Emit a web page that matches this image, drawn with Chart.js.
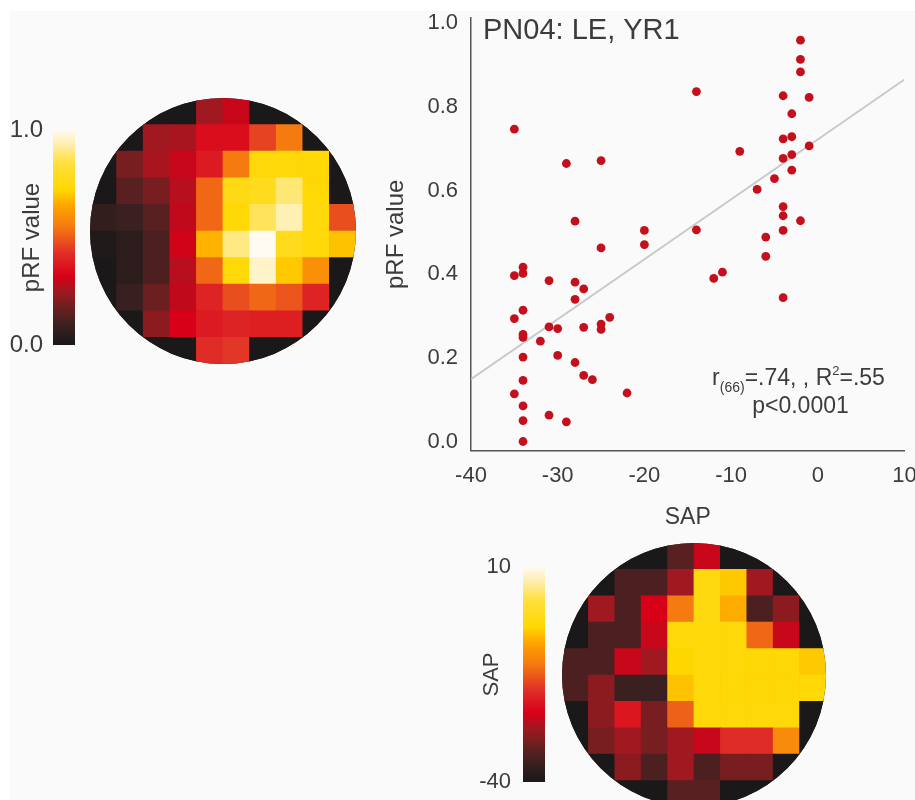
<!DOCTYPE html>
<html>
<head>
<meta charset="utf-8">
<script src="https://cdn.jsdelivr.net/npm/chart.js@4.4.1/dist/chart.umd.min.js"></script>
<style>
  html, body { margin: 0; padding: 0; background: #fff; }
  #page { position: relative; width: 915px; height: 800px; overflow: hidden; background: #fff; }
  #panel { position: absolute; left: 10px; top: 11px; right: 0; bottom: 0; background: #fafafa; }
  canvas { position: absolute; }
</style>
</head>
<body>
<div id="page">
  <div id="panel"></div>
  <canvas id="prfBar" width="80" height="235" style="left:0;top:120px"></canvas>
  <canvas id="prfMap" width="266" height="266" style="left:90px;top:98px"></canvas>
  <canvas id="scatter" width="560" height="540" style="left:380px;top:0"></canvas>
  <canvas id="sapBar" width="80" height="235" style="left:470px;top:557px"></canvas>
  <canvas id="sapMap" width="264" height="264" style="left:562px;top:543px"></canvas>
</div>
<script>
// scatter: SAP (dB) against pRF value, one point per visual field location
var sap = [-2, -2, -2, -14, -4, -1, -35, -3, -4, -3, -9, -1, -29, -25, -4, -3,
           -3, -5, -7, -4, -4, -2, -4, -28, -20, -20, -14, -25, -6, -6, -11, -12,
           -4, -35, -34, -34, -31, -28, -27, -28, -34, -35, -24, -25, -25, -31, -30, -27,
           -34, -34, -32, -34, -30, -28, -27, -26, -34, -35, -22, -34, -31, -29, -34, -34];
var prf = [0.96, 0.914, 0.884, 0.837, 0.827, 0.823, 0.747, 0.784, 0.724, 0.729, 0.694, 0.707, 0.665, 0.672, 0.677, 0.686,
           0.649, 0.629, 0.603, 0.562, 0.540, 0.528, 0.505, 0.527, 0.505, 0.471, 0.506, 0.463, 0.489, 0.443, 0.405, 0.390,
           0.344, 0.397, 0.417, 0.402, 0.385, 0.381, 0.365, 0.340, 0.314, 0.294, 0.297, 0.281, 0.268, 0.274, 0.270, 0.273,
           0.256, 0.249, 0.240, 0.202, 0.206, 0.189, 0.158, 0.148, 0.146, 0.114, 0.116, 0.085, 0.063, 0.047, 0.050, 0.0];
var fitSap = [-40, 10];
var fitPrf = [0.149, 0.866];
var xTicks = [-40, -30, -20, -10, 0, 10];
var yTicks = [0, 0.2, 0.4, 0.6, 0.8, 1.0];
var panelTitle = 'PN04: LE, YR1';
var statLine2 = 'p<0.0001';

// maps, rows top to bottom
var prfGrid = [
  [0, 0, 0, 0, 0.25, 0.30, 0, 0, 0, 0],
  [0, 0, 0.25, 0.26, 0.35, 0.35, 0.46, 0.55, 0, 0],
  [0, 0.19, 0.26, 0.30, 0.38, 0.55, 0.74, 0.74, 0.73, 0],
  [0, 0.14, 0.19, 0.28, 0.52, 0.76, 0.78, 0.89, 0.73, 0],
  [0.07, 0.09, 0.14, 0.29, 0.52, 0.73, 0.87, 0.94, 0.74, 0.48],
  [0.02, 0.05, 0.12, 0.31, 0.67, 0.90, 1.0, 0.78, 0.74, 0.69],
  [0, 0.05, 0.12, 0.28, 0.52, 0.74, 0.96, 0.70, 0.60, 0],
  [0, 0.085, 0.17, 0.29, 0.40, 0.48, 0.52, 0.49, 0.40, 0],
  [0, 0, 0.22, 0.32, 0.38, 0.40, 0.39, 0.39, 0, 0],
  [0, 0, 0, 0, 0.42, 0.44, 0, 0, 0, 0]
];
var sapGrid = [
  [-40, -40, -40, -40, -33, -25, -40, -40, -40, -40],
  [-40, -40, -34, -34, -27.5, -2.5, -5, -27.5, -40, -40],
  [-40, -27.5, -34, -24, -12.5, -2.5, -7, -34, -29, -40],
  [-40, -34, -34, -25, -3, -3, -3, -14, -25, -40],
  [-34, -34, -25, -27.5, -4, -3, -3, -3.5, -3.5, -5],
  [-34, -29, -35.5, -35.5, -5.5, -3, -3.5, -3.5, -3.5, -3.5],
  [-40, -29, -21.5, -30.5, -14.5, -3, -3, -3, -3, -40],
  [-40, -30.5, -27.5, -30.5, -27.5, -25, -19, -19, -10.5, -40],
  [-40, -40, -29, -34, -27.5, -34, -30.5, -30.5, -40, -40],
  [-40, -40, -40, -40, -33, -33, -40, -40, -40, -40]
];
var prfRange = [0, 1];
var sapRange = [-40, 10];
var prfBarTicks = [0, 1];
var sapBarTicks = [-40, 10];

var cmapStops = [0, 0.09, 0.17, 0.25, 0.32, 0.43, 0.55, 0.65, 0.72, 0.85, 0.93, 1];
var cmapColors = ['#1a1818', '#3a2020', '#6a2020', '#a01820', '#d80018', '#e03028',
                  '#f57a10', '#ffa500', '#ffd700', '#ffe040', '#ffeeaa', '#fffaf2'];

var textColor = '#3c3c3c';
var fontFamily = '"Liberation Sans", Arial, sans-serif';
Chart.defaults.font.family = fontFamily;
Chart.defaults.color = textColor;

function hexRgb(h) {
  return [parseInt(h.slice(1, 3), 16), parseInt(h.slice(3, 5), 16), parseInt(h.slice(5, 7), 16)];
}
function colorAt(t) {
  t = Math.max(0, Math.min(1, t));
  for (var i = 1; i < cmapStops.length; i++) {
    if (t <= cmapStops[i]) {
      var f = (t - cmapStops[i - 1]) / (cmapStops[i] - cmapStops[i - 1]);
      var a = hexRgb(cmapColors[i - 1]), b = hexRgb(cmapColors[i]);
      return 'rgb(' + a.map(function (c, k) { return Math.round(c + (b[k] - c) * f); }).join(',') + ')';
    }
  }
  return cmapColors[cmapColors.length - 1];
}

// label overhang would otherwise push the plot area in
function noLabelPad(s) { s.paddingTop = 0; s.paddingBottom = 0; }

// black disc + clip so the grid looks round
var circleClip = {
  id: 'circleClip',
  beforeDatasetsDraw: function (chart) {
    var a = chart.chartArea, ctx = chart.ctx;
    ctx.save();
    ctx.beginPath();
    ctx.arc((a.left + a.right) / 2, (a.top + a.bottom) / 2, a.width / 2, 0, Math.PI * 2);
    ctx.closePath();
    ctx.fillStyle = cmapColors[0];
    ctx.fill();
    ctx.clip();
  },
  afterDatasetsDraw: function (chart) { chart.ctx.restore(); }
};

function heatmap(id, grid, range) {
  var pts = [];
  grid.forEach(function (row, r) {
    row.forEach(function (v, c) { pts.push({ x: c, y: r, v: v }); });
  });
  var n = grid[0].length;
  var cellRadius = function (ctx) {
    var a = ctx.chart.chartArea;
    return ((a ? a.width / n : 26) + 0.7) / Math.SQRT2;
  };
  return new Chart(document.getElementById(id), {
    type: 'scatter',
    data: {
      datasets: [{
        data: pts,
        pointStyle: 'rect',
        pointRadius: cellRadius,
        pointHoverRadius: cellRadius,
        backgroundColor: function (ctx) {
          var v = ctx.raw ? ctx.raw.v : range[0];
          return colorAt((v - range[0]) / (range[1] - range[0]));
        },
        borderWidth: 0
      }]
    },
    options: {
      responsive: false, animation: false, events: [],
      layout: { padding: 0, autoPadding: false },
      plugins: { legend: { display: false }, tooltip: { enabled: false } },
      scales: {
        x: { type: 'linear', min: -0.5, max: n - 0.5, display: false },
        y: { type: 'linear', min: -0.5, max: grid.length - 0.5, reverse: true, display: false }
      }
    },
    plugins: [circleClip]
  });
}

function colorbar(id, range, ticks, title, tickSize, titleSize, tickPad, titlePad, fmt) {
  return new Chart(document.getElementById(id), {
    type: 'bar',
    data: {
      labels: [''],
      datasets: [{
        data: [[range[0], range[1]]],
        backgroundColor: function (ctx) {
          var chart = ctx.chart;
          if (!chart.chartArea) return cmapColors[0];
          var y = chart.scales.y;
          var g = chart.ctx.createLinearGradient(0, y.getPixelForValue(range[0]), 0, y.getPixelForValue(range[1]));
          cmapStops.forEach(function (s, i) { g.addColorStop(s, cmapColors[i]); });
          return g;
        },
        borderWidth: 0,
        barPercentage: 1,
        categoryPercentage: 1
      }]
    },
    options: {
      responsive: false, animation: false, events: [],
      layout: { padding: { top: 10, bottom: 10, left: 0, right: 5 }, autoPadding: false },
      plugins: { legend: { display: false }, tooltip: { enabled: false } },
      scales: {
        x: { display: false },
        y: {
          min: range[0], max: range[1],
          afterBuildTicks: function (s) { s.ticks = ticks.map(function (v) { return { value: v }; }); },
          afterFit: function (s) { s.width = 53; noLabelPad(s); },
          grid: { display: false, drawTicks: false },
          border: { display: false },
          ticks: { padding: tickPad, color: textColor, font: { size: tickSize }, callback: fmt },
          title: { display: true, text: title, color: textColor, font: { size: titleSize }, padding: { top: titlePad, bottom: 0 } }
        }
      }
    }
  });
}

var scatterText = {
  id: 'scatterText',
  afterDraw: function (chart) {
    var ctx = chart.ctx, a = chart.chartArea;
    ctx.save();
    ctx.fillStyle = textColor;
    ctx.textBaseline = 'middle';
    ctx.textAlign = 'left';
    ctx.font = '29px ' + fontFamily;
    ctx.fillText(panelTitle, a.left + 12, a.top + 13);

    // r(66)=.74, , R²=.55
    var parts = [
      { t: 'r', size: 23, dy: 0 },
      { t: '(66)', size: 14, dy: 7 },
      { t: '=.74, , R', size: 23, dy: 0 },
      { t: '2', size: 13, dy: -10 },
      { t: '=.55', size: 23, dy: 0 }
    ];
    ctx.textBaseline = 'alphabetic';
    var total = 0;
    parts.forEach(function (p) { ctx.font = p.size + 'px ' + fontFamily; p.w = ctx.measureText(p.t).width; total += p.w; });
    var x = a.right - 106 - total / 2, base = a.bottom - 66;
    parts.forEach(function (p) {
      ctx.font = p.size + 'px ' + fontFamily;
      ctx.fillText(p.t, x, base + p.dy);
      x += p.w;
    });
    ctx.font = '23px ' + fontFamily;
    ctx.textAlign = 'center';
    ctx.fillText(statLine2, a.right - 104, a.bottom - 38);
    ctx.restore();
  }
};

new Chart(document.getElementById('scatter'), {
  type: 'scatter',
  data: {
    datasets: [{
      data: sap.map(function (x, i) { return { x: x, y: prf[i] }; }),
      backgroundColor: '#c3101c',
      borderWidth: 0,
      pointRadius: 4.4,
      pointHoverRadius: 4.4,
      order: 0
    }, {
      type: 'line',
      data: fitSap.map(function (x, i) { return { x: x, y: fitPrf[i] }; }),
      borderColor: '#c9c9c9',
      borderWidth: 2,
      pointRadius: 0,
      fill: false,
      order: 1
    }]
  },
  options: {
    responsive: false, animation: false, events: [],
    layout: { padding: { left: 0, top: 18, right: 35.5, bottom: 0 }, autoPadding: false },
    plugins: { legend: { display: false }, tooltip: { enabled: false } },
    scales: {
      x: {
        type: 'linear', min: -40, max: 10,
        afterBuildTicks: function (s) { s.ticks = xTicks.map(function (v) { return { value: v }; }); },
        afterFit: function (s) { s.height = 89.3; s.paddingLeft = 0; s.paddingRight = 0; },
        grid: { display: false, drawTicks: false },
        border: { display: true, color: '#555', width: 1.5 },
        ticks: { padding: 12, color: textColor, font: { size: 22 }, callback: function (v) { return String(v); } },
        title: { display: true, text: 'SAP', color: textColor, font: { size: 23 }, padding: { top: 0, bottom: 9 } }
      },
      y: {
        type: 'linear', min: -0.022, max: 1.013,
        afterBuildTicks: function (s) { s.ticks = yTicks.map(function (v) { return { value: v }; }); },
        afterFit: function (s) { s.width = 91; noLabelPad(s); },
        grid: { display: false, drawTicks: false },
        border: { display: true, color: '#555', width: 1.5 },
        ticks: { padding: 13, color: textColor, font: { size: 22 }, callback: function (v) { return v.toFixed(1); } },
        title: { display: true, text: 'pRF value', color: textColor, font: { size: 24 }, padding: { top: 2, bottom: 0 } }
      }
    }
  },
  plugins: [scatterText]
});

heatmap('prfMap', prfGrid, prfRange);
heatmap('sapMap', sapGrid, sapRange);
colorbar('prfBar', prfRange, prfBarTicks, 'pRF value', 24, 24, 10, 17.6, function (v) { return v.toFixed(1); });
colorbar('sapBar', sapRange, sapBarTicks, 'SAP', 22, 22, 12, 9, function (v) { return String(v); });
</script>
</body>
</html>
